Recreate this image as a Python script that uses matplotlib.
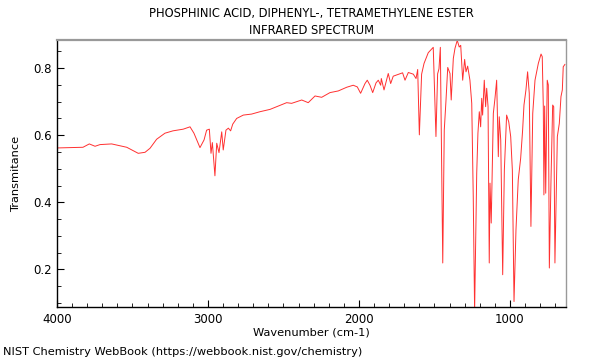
import matplotlib
matplotlib.use('Agg')
import matplotlib.pyplot as plt
from matplotlib.ticker import MultipleLocator

# spectrum (wavenumber cm-1, transmittance)
wavenumber = [
    4000, 3828, 3786, 3748, 3715, 3638, 3538, 3462, 3417, 3384, 3340, 3285,
    3232, 3164, 3119, 3093, 3053, 3026, 3009, 2991, 2980, 2971, 2954, 2942,
    2927, 2909, 2899, 2881, 2865, 2850, 2836, 2810, 2766, 2711, 2656, 2589,
    2479, 2446, 2379, 2336, 2291, 2247, 2192, 2137, 2081, 2038, 2011, 1989,
    1960, 1945, 1927, 1909, 1887, 1872, 1856, 1852, 1834, 1806, 1790, 1773,
    1711, 1695, 1673, 1640, 1622, 1611, 1600, 1585, 1569, 1541, 1508, 1490,
    1479, 1470, 1461, 1445, 1435, 1424, 1412, 1397, 1389, 1375, 1364, 1349,
    1336, 1326, 1313, 1300, 1291, 1280, 1265, 1253, 1243, 1234, 1220, 1212,
    1203, 1194, 1187, 1181, 1170, 1161, 1154, 1145, 1137, 1132, 1124, 1110,
    1099, 1088, 1077, 1071, 1061, 1048, 1037, 1022, 1008, 995, 984, 973,
    960, 945, 929, 916, 907, 894, 883, 872, 861, 849, 834, 812,
    794, 786, 779, 775, 770, 763, 753, 746, 739, 728, 717, 710,
    702, 686, 673, 662, 653, 647, 636,
]
transmittance = [
    0.562, 0.564, 0.574, 0.567, 0.572, 0.574, 0.564, 0.546, 0.549, 0.561, 0.588, 0.606,
    0.613, 0.618, 0.625, 0.606, 0.563, 0.586, 0.615, 0.618, 0.546, 0.578, 0.479, 0.576,
    0.548, 0.610, 0.556, 0.615, 0.621, 0.613, 0.633, 0.650, 0.660, 0.663, 0.670, 0.677,
    0.697, 0.695, 0.705, 0.697, 0.717, 0.713, 0.727, 0.732, 0.743, 0.749, 0.744, 0.725,
    0.754, 0.764, 0.749, 0.727, 0.756, 0.764, 0.749, 0.769, 0.735, 0.784, 0.754, 0.776,
    0.786, 0.764, 0.787, 0.782, 0.769, 0.796, 0.601, 0.782, 0.814, 0.846, 0.862, 0.596,
    0.783, 0.798, 0.862, 0.219, 0.615, 0.700, 0.802, 0.784, 0.705, 0.829, 0.859, 0.883,
    0.863, 0.868, 0.764, 0.826, 0.789, 0.806, 0.764, 0.695, 0.417, 0.075, 0.487, 0.606,
    0.670, 0.625, 0.710, 0.660, 0.764, 0.685, 0.740, 0.685, 0.219, 0.457, 0.338, 0.665,
    0.710, 0.764, 0.536, 0.655, 0.586, 0.184, 0.496, 0.660, 0.640, 0.596, 0.496, 0.104,
    0.318, 0.467, 0.531, 0.615, 0.690, 0.735, 0.789, 0.725, 0.328, 0.665, 0.764, 0.814,
    0.842, 0.834, 0.685, 0.422, 0.687, 0.427, 0.764, 0.750, 0.204, 0.467, 0.690, 0.685,
    0.219, 0.596, 0.635, 0.715, 0.735, 0.804, 0.811,
]

fig = plt.figure(figsize=(6, 3.6), dpi=100)
ax = fig.add_axes([0.095, 0.147, 0.848, 0.742])

ax.plot(wavenumber, transmittance, color='#ff3030', linewidth=0.7)

ax.set_xlim(4000, 630)
ax.set_ylim(0.0875, 0.884)
ax.xaxis.set_major_locator(MultipleLocator(1000))
ax.xaxis.set_minor_locator(MultipleLocator(100))
ax.yaxis.set_major_locator(MultipleLocator(0.2))
ax.yaxis.set_minor_locator(MultipleLocator(0.05))
ax.tick_params(which='both', direction='in', labelsize=8.5, color='black')
ax.tick_params(which='major', length=5)
ax.tick_params(which='minor', length=3)
ax.tick_params(axis='x', pad=4)

for side in ['top', 'right']:
    ax.spines[side].set_color('#999999')
ax.spines['top'].set_linewidth(1.6)
ax.spines['right'].set_linewidth(1.0)
for side in ['left', 'bottom']:
    ax.spines[side].set_color('black')
    ax.spines[side].set_linewidth(1.0)

ax.set_xlabel('Wavenumber (cm-1)', fontsize=8.2, labelpad=1)
ax.set_ylabel('Transmitance', fontsize=8.2, labelpad=9)

fig.text(0.519, 0.963, 'PHOSPHINIC ACID, DIPHENYL-, TETRAMETHYLENE ESTER',
         ha='center', va='center', fontsize=8.3)
fig.text(0.519, 0.915, 'INFRARED SPECTRUM', ha='center', va='center', fontsize=8.3)
fig.text(0.005, 0.022, 'NIST Chemistry WebBook (https://webbook.nist.gov/chemistry)',
         ha='left', va='center', fontsize=8.2)

fig.savefig('out.png', dpi=100)
